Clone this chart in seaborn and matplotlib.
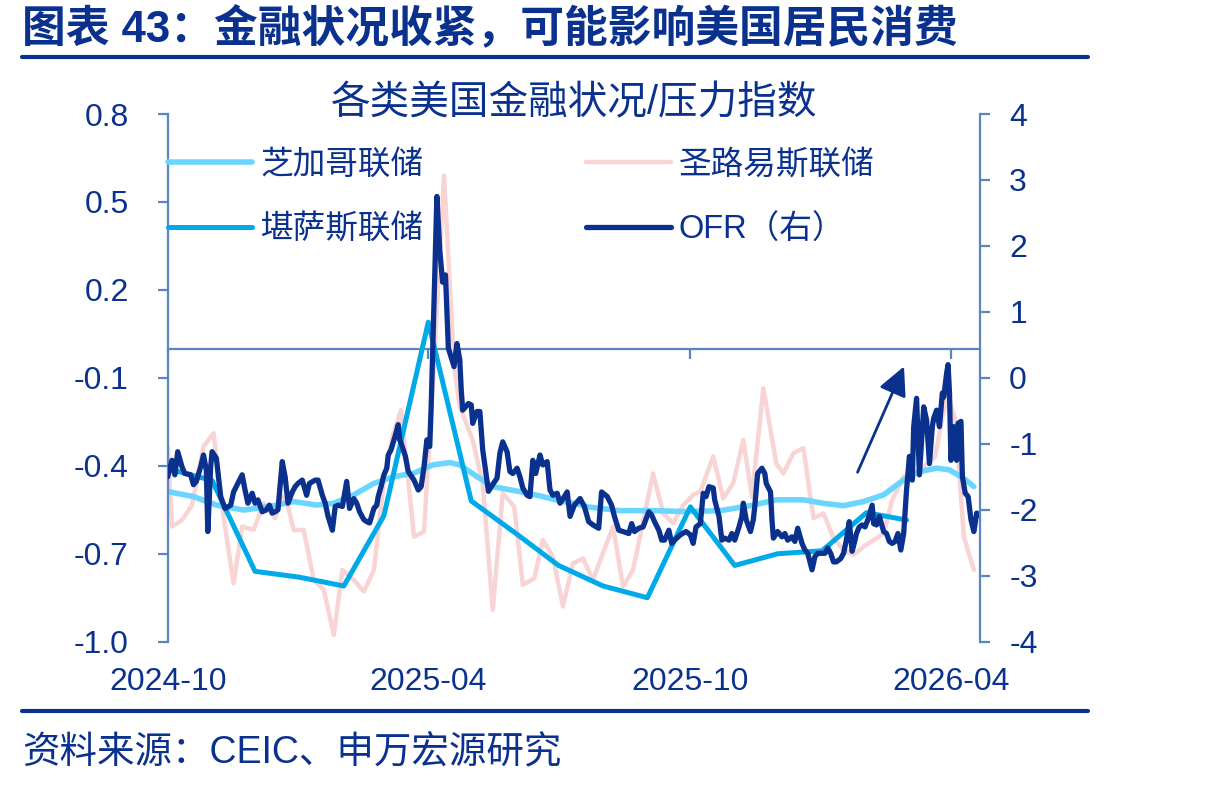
import numpy as np
import pandas as pd
import matplotlib
matplotlib.use("Agg")
import matplotlib.pyplot as plt
import matplotlib.dates as mdates
from matplotlib.lines import Line2D
from matplotlib.ticker import FormatStrFormatter
import seaborn as sns

# ---- data (days counted from 2024-10-01) ----
start = pd.Timestamp("2024-10-01")

# 芝加哥联储 (left axis)
chi_day = [0, 18, 34, 53, 71, 88, 104, 116, 130, 144,
           158, 172, 185, 197, 204, 216, 227, 246, 262, 274,
           286, 293, 316, 339, 362, 386, 409, 425, 444, 458,
           472, 486, 500, 514, 525, 537, 546, 556, 563]
chi_val = [-0.488, -0.505, -0.534, -0.551, -0.539, -0.522, -0.534, -0.528, -0.499, -0.460,
           -0.437, -0.425, -0.397, -0.389, -0.397, -0.437, -0.471, -0.488, -0.505, -0.520,
           -0.530, -0.540, -0.553, -0.553, -0.556, -0.553, -0.534, -0.516, -0.516, -0.528,
           -0.536, -0.522, -0.499, -0.448, -0.420, -0.408, -0.414, -0.443, -0.471]

# 堪萨斯联储 (left axis, monthly)
kc_month = pd.date_range("2024-10-01", "2026-03-01", freq="MS")
kc_val = [-0.41, -0.45, -0.76, -0.78, -0.81, -0.57, 0.09, -0.52, -0.63, -0.74,
          -0.81, -0.85, -0.54, -0.74, -0.70, -0.69, -0.56, -0.585]

# 圣路易斯联储 (left axis, weekly)
stl_day = [0, 3, 10, 17, 25, 32, 39, 46, 52, 60,
           67, 75, 80, 84, 88, 95, 102, 109, 116, 122,
           130, 137, 144, 151, 157, 163, 172, 179, 186, 193,
           200, 204, 213, 220, 227, 234, 242, 248, 256, 262,
           269, 276, 283, 290, 297, 311, 318, 325, 339, 346,
           353, 360, 367, 372, 381, 388, 395, 402, 408, 416,
           425, 430, 437, 444, 451, 458, 465, 472, 479, 486,
           493, 500, 506, 514, 521, 528, 536, 541, 545, 550,
           552, 556, 563]
stl_val = [-0.335, -0.607, -0.585, -0.534, -0.335, -0.289, -0.573, -0.801, -0.607, -0.619,
           -0.528, -0.579, -0.505, -0.539, -0.619, -0.619, -0.789, -0.823, -0.977, -0.755,
           -0.789, -0.829, -0.755, -0.45, -0.30, -0.21, -0.642, -0.624, -0.05, 0.59,
           -0.06, -0.198, -0.312, -0.460, -0.892, -0.494, -0.539, -0.806, -0.784, -0.653,
           -0.710, -0.880, -0.733, -0.716, -0.789, -0.607, -0.812, -0.755, -0.426, -0.562,
           -0.596, -0.534, -0.499, -0.488, -0.368, -0.511, -0.459, -0.312, -0.505, -0.136,
           -0.392, -0.426, -0.357, -0.340, -0.579, -0.562, -0.647, -0.687, -0.704, -0.676,
           -0.653, -0.630, -0.516, -0.437, -0.426, -0.403, -0.369, -0.232, -0.158, -0.244,
           -0.369, -0.642, -0.755]

# OFR (right axis)
ofr_day = [0, 3, 5, 7, 10, 12, 16, 18, 20, 23,
           25, 27, 28, 30, 31, 34, 37, 40, 44, 46,
           49, 52, 54, 56, 59, 61, 63, 66, 69, 71,
           73, 75, 77, 80, 82, 84, 87, 89, 91, 94,
           97, 99, 103, 105, 108, 110, 112, 115, 117, 119,
           122, 125, 127, 130, 132, 134, 137, 139, 141, 144,
           146, 147, 149, 151, 153, 154, 156, 159, 161, 162,
           163, 166, 168, 172, 175, 177, 179, 181, 183, 184,
           188, 190, 192, 194, 196, 200, 202, 204, 205, 206,
           210, 212, 213, 216, 218, 220, 224, 226, 230, 232,
           234, 237, 239, 241, 244, 246, 248, 251, 253, 255,
           257, 260, 262, 265, 267, 269, 272, 274, 277, 279,
           281, 284, 288, 291, 294, 297, 301, 303, 307, 310,
           312, 315, 318, 322, 324, 326, 329, 332, 336, 338,
           340, 343, 345, 347, 350, 352, 354, 358, 362, 365,
           367, 369, 372, 374, 376, 378, 381, 382, 385, 387,
           389, 392, 394, 396, 399, 401, 402, 404, 407, 409,
           410, 412, 415, 417, 418, 421, 422, 423, 426, 429,
           431, 433, 436, 438, 440, 443, 445, 447, 450, 452,
           454, 457, 459, 461, 463, 465, 467, 470, 472, 474,
           476, 478, 480, 481, 483, 485, 487, 489, 492, 493,
           495, 497, 500, 502, 504, 506, 508, 510, 512, 514,
           516, 518, 520, 521, 523, 525, 527, 528, 530, 532,
           534, 535, 537, 539, 541, 542, 544, 545, 546, 547,
           549, 551, 552, 554, 555, 557, 559, 561, 563, 565,
           567]
ofr_val = [-1.50, -1.25, -1.47, -1.12, -1.35, -1.45, -1.47, -1.62, -1.57, -1.35,
           -1.17, -1.40, -2.33, -1.35, -1.12, -1.22, -1.80, -1.98, -1.93, -1.73,
           -1.60, -1.47, -1.70, -1.90, -1.75, -1.90, -1.85, -2.03, -2.00, -1.93,
           -2.05, -2.03, -2.00, -1.27, -1.50, -1.90, -1.73, -1.65, -1.60, -1.55,
           -1.78, -1.60, -1.55, -1.55, -1.78, -1.90, -2.10, -2.31, -1.95, -1.93,
           -1.95, -1.57, -1.98, -1.83, -1.90, -2.03, -2.15, -2.18, -2.20, -1.98,
           -1.93, -1.80, -1.65, -1.47, -1.37, -1.17, -1.09, -0.87, -0.71, -0.94,
           -0.99, -1.19, -1.42, -1.55, -1.70, -1.65, -1.35, -0.94, -1.04, -0.44,
           2.75, 1.94, 1.45, 1.56, 0.45, 0.17, 0.52, 0.27, -0.18, -0.49,
           -0.39, -0.41, -0.69, -0.51, -0.51, -1.09, -1.72, -1.65, -1.52, -1.14,
           -0.97, -1.12, -1.42, -1.45, -1.37, -1.50, -1.67, -1.78, -1.80, -1.25,
           -1.45, -1.17, -1.32, -1.27, -1.70, -1.78, -1.75, -1.90, -1.80, -1.73,
           -2.10, -1.93, -1.83, -1.95, -2.18, -2.23, -2.28, -1.73, -1.80, -1.93,
           -2.10, -2.31, -2.33, -2.36, -2.21, -2.33, -2.28, -2.26, -2.03, -2.08,
           -2.18, -2.31, -2.46, -2.46, -2.31, -2.51, -2.46, -2.38, -2.33, -2.38,
           -2.51, -2.26, -2.21, -1.75, -1.80, -1.65, -1.67, -1.85, -2.10, -2.46,
           -2.43, -2.46, -2.36, -2.46, -2.26, -2.10, -1.90, -2.15, -2.33, -2.15,
           -1.95, -1.45, -1.37, -1.45, -1.60, -1.73, -2.15, -2.43, -2.33, -2.41,
           -2.36, -2.46, -2.41, -2.48, -2.28, -2.51, -2.61, -2.66, -2.91, -2.71,
           -2.66, -2.66, -2.66, -2.58, -2.66, -2.79, -2.79, -2.74, -2.66, -2.46,
           -2.18, -2.63, -2.46, -2.36, -2.26, -2.23, -2.26, -2.15, -1.93, -2.21,
           -2.23, -2.10, -2.33, -2.36, -2.48, -2.51, -2.48, -2.36, -2.61, -2.36,
           -1.70, -1.19, -1.55, -0.74, -0.31, -1.47, -0.79, -0.44, -0.64, -1.30,
           -0.74, -0.61, -0.49, -0.74, -0.23, -0.29, 0.07, 0.20, -0.23, -1.25,
           -0.74, -1.25, -0.69, -0.66, -1.50, -1.75, -1.80, -2.15, -2.33, -2.05,
           -2.08]

labels = ["芝加哥联储", "堪萨斯联储", "圣路易斯联储", "OFR（右）"]

# ---- style ----
navy = "#0B318F"
axis_c = "#5A86C0"
c_chi = "#6AD6FF"
c_kc = "#00AAE8"
c_stl = "#F8D4D4"
c_ofr = "#0B318F"

sns.set_theme(style="white")
plt.rcParams["font.family"] = ["Liberation Sans", "Noto Sans CJK SC"]
plt.rcParams["axes.unicode_minus"] = False
plt.rcParams["lines.solid_joinstyle"] = "round"
plt.rcParams["lines.solid_capstyle"] = "round"

def frame(days, vals):
    return pd.DataFrame({"date": start + pd.to_timedelta(days, unit="D"), "value": vals})

df_chi = frame(chi_day, chi_val)
df_stl = frame(stl_day, stl_val)
df_ofr = frame(ofr_day, ofr_val)
df_kc = pd.DataFrame({"date": kc_month, "value": kc_val})

W, H = 1231, 787
fig = plt.figure(figsize=(W / 100, H / 100), dpi=100)
ax = fig.add_axes([167.7 / W, 1 - 641.7 / H, (980 - 167.7) / W, 527.7 / H])
ax2 = ax.twinx()

sns.lineplot(data=df_stl, x="date", y="value", ax=ax, color=c_stl, lw=3.2, estimator=None, legend=False)
sns.lineplot(data=df_chi, x="date", y="value", ax=ax, color=c_chi, lw=4.0, estimator=None, legend=False)
sns.lineplot(data=df_kc, x="date", y="value", ax=ax, color=c_kc, lw=3.6, estimator=None, legend=False)
sns.lineplot(data=df_ofr, x="date", y="value", ax=ax2, color=c_ofr, lw=3.8, estimator=None, legend=False)
h_stl, h_chi, h_kc = ax.lines[:3]
h_ofr = ax2.lines[0]

# axes ranges / ticks
ax.set_xlim(start, start + pd.Timedelta(days=567.3))
ax.xaxis.set_major_locator(mdates.MonthLocator(bymonth=[4, 10]))
ax.xaxis.set_major_formatter(mdates.DateFormatter("%Y-%m"))
ax.set_ylim(-1.0, 0.8)
ax.set_yticks(np.round(np.arange(-1.0, 0.81, 0.3), 1))
ax.yaxis.set_major_formatter(FormatStrFormatter("%.1f"))
ax2.set_ylim(-4, 4)
ax2.set_yticks(range(-4, 5))
for a in (ax, ax2):
    a.set_xlabel("")
    a.set_ylabel("")

# spines
ax.spines["top"].set_visible(False)
ax.spines["right"].set_visible(False)
ax.spines["left"].set_color(axis_c)
ax.spines["left"].set_linewidth(1.6)
ax.spines["bottom"].set_position(("data", 0))
ax.spines["bottom"].set_color(axis_c)
ax.spines["bottom"].set_linewidth(1.6)
ax.spines["bottom"].set_zorder(1)
for s in ("top", "left", "bottom"):
    ax2.spines[s].set_visible(False)
ax2.spines["right"].set_color(axis_c)
ax2.spines["right"].set_linewidth(1.6)

ax.tick_params(axis="y", direction="out", length=7, width=1.6, color=axis_c,
               labelcolor=navy, labelsize=23, pad=21, left=True)
ax.tick_params(axis="x", direction="out", length=7, width=1.6, color=axis_c,
               labelbottom=False, bottom=True)
ax2.tick_params(axis="y", direction="out", length=7, width=1.6, color=axis_c,
                labelcolor=navy, labelsize=23, pad=14, right=True)
ax2.xaxis.set_visible(True)
ax2.tick_params(axis="x", length=0, labelbottom=True, labeltop=False,
                labelsize=23, labelcolor=navy, pad=18)

# legend
ax2.legend([h_chi, h_kc, h_stl, h_ofr], labels, ncol=2, loc="upper left",
           bbox_to_anchor=(0, 0.933), frameon=False, fontsize=23.5,
           handlelength=2.58, handletextpad=0.25, columnspacing=5.0,
           labelspacing=1.05, borderpad=0, borderaxespad=0, labelcolor=navy)

# arrow
ax2.annotate("", xy=(start + pd.Timedelta(days=515), 0.21),
             xytext=(start + pd.Timedelta(days=481), -1.47),
             arrowprops=dict(arrowstyle="-|>,head_length=0.7,head_width=0.35",
                             color=navy, lw=2, mutation_scale=25))

# titles and frame text
fig.text(22 / W, 1 - 29 / H, "图表 43：金融状况收紧，可能影响美国居民消费",
         fontsize=31.5, fontweight="bold", color=navy, ha="left", va="center")
fig.add_artist(Line2D([22 / W, 1088 / W], [1 - 57 / H] * 2, color=navy, lw=3))
fig.text(574 / W, 1 - 103 / H, "各类美国金融状况/压力指数",
         fontsize=28.5, color=navy, ha="center", va="center")
fig.add_artist(Line2D([22 / W, 1088 / W], [1 - 711 / H] * 2, color=navy, lw=3))
fig.text(22 / W, 1 - 753 / H, "资料来源：CEIC、申万宏源研究",
         fontsize=27, color=navy, ha="left", va="center")

fig.savefig("out.png", dpi=100)
